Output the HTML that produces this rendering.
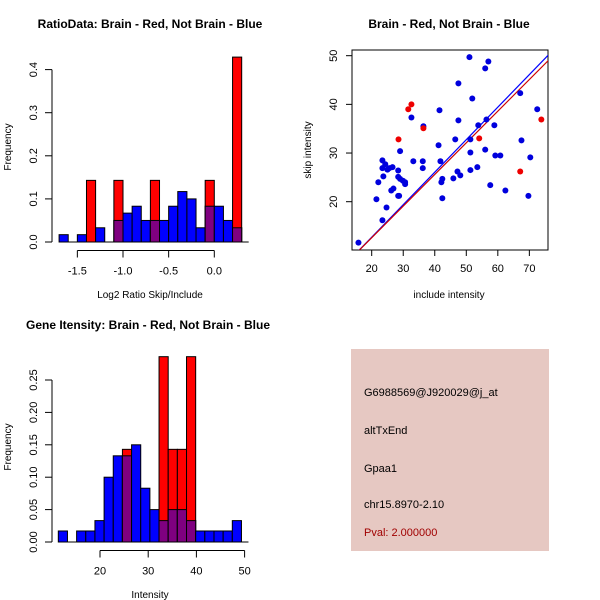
<!DOCTYPE html>
<html><head><meta charset="utf-8"><style>
body{margin:0;background:#fff}
svg{display:block;font-family:"Liberation Sans",sans-serif}
</style></head><body>
<svg id="s" width="600" height="600" xmlns="http://www.w3.org/2000/svg">
<rect x="0" y="0" width="600" height="600" fill="#fff"/>
<g id="p1"></g>
<g id="p2"></g>
<g id="p3"></g>
<g font-size="11">
<rect x="351" y="349" width="198" height="202" fill="#e6c8c2"/>
<text x="364" y="396" fill="#000">G6988569@J920029@j_at</text>
<text x="364" y="434" fill="#000">altTxEnd</text>
<text x="364" y="472" fill="#000">Gpaa1</text>
<text x="364" y="508" fill="#000">chr15.8970-2.10</text>
<text x="364" y="536" fill="#a00000">Pval: 2.000000</text>
</g>
</svg>
<script>
// ---- data ----
const ratioBinStart = -1.7, ratioBinWidth = 0.1;
const ratioBlue = [0.017,0,0.017,0,0.033,0,0.05,0.067,0.083,0.05,0.05,0.05,0.083,0.117,0.1,0.033,0.083,0.083,0.05,0.033];
const ratioRed  = [0,0,0,0.143,0,0,0.143,0,0,0,0.143,0,0,0,0,0,0.143,0,0,0.429];
const ratioXTicks = [-1.5,-1.0,-0.5,0.0];
const ratioXLabels = ["-1.5","-1.0","-0.5","0.0"];
const ratioYTicks = [0,0.1,0.2,0.3,0.4];
const ratioYLabels = ["0.0","0.1","0.2","0.3","0.4"];

const geneBinStart = 11.35, geneBinWidth = 1.9;
const geneBlue = [0.017,0,0.017,0.017,0.033,0.1,0.133,0.133,0.15,0.083,0.05,0.033,0.05,0.05,0.033,0.017,0.017,0.017,0.017,0.033];
const geneRed  = [0,0,0,0,0,0,0,0.143,0,0,0,0.286,0.143,0.143,0.286,0,0,0,0,0];
const geneXTicks = [20,30,40,50];
const geneXLabels = ["20","30","40","50"];
const geneYTicks = [0,0.05,0.10,0.15,0.20,0.25];
const geneYLabels = ["0.00","0.05","0.10","0.15","0.20","0.25"];

const blueInclude = [15.8,21.5,22.1,23.4,23.4,23.7,23.4,24.3,24.7,25.0,25.6,26.2,26.6,26.9,28.4,28.4,28.7,28.4,29.0,29.0,29.9,30.6,30.6,32.6,33.2,36.2,36.2,36.4,41.5,41.2,41.8,42.1,42.4,42.4,45.9,46.5,47.2,47.5,47.5,48.1,51.0,51.3,51.3,51.3,51.9,53.5,53.8,56.0,57.0,56.0,56.4,57.6,58.9,59.2,60.8,62.4,67.1,67.5,69.7,70.3,72.5];
const blueSkip    = [11.6,20.5,24.0,28.5,26.9,25.2,16.2,27.7,18.8,26.6,26.9,22.3,27.1,22.7,26.4,25.1,21.2,21.2,30.4,24.7,24.3,23.6,24.0,37.3,28.3,28.3,26.9,35.5,38.8,31.6,28.3,24.0,24.7,20.7,24.8,32.8,26.2,44.3,36.7,25.4,49.7,32.8,30.1,26.5,41.2,27.1,35.7,47.4,48.8,30.7,36.9,23.4,35.7,29.5,29.5,22.3,42.3,32.6,21.2,29.1,39.0];
const redInclude = [28.5,31.6,32.6,36.4,54.1,67.1,73.8];
const redSkip    = [32.8,39.0,40.0,35.1,33.0,26.2,36.9];
const lineIntercepts = [-0.65,-0.4];
const lineSlopes = [0.668,0.65];
const scatXTicks = [20,30,40,50,60,70];
const scatXLabels = ["20","30","40","50","60","70"];
const scatYTicks = [20,30,40,50];
const scatYLabels = ["20","30","40","50"];

const NS = "http://www.w3.org/2000/svg";
function mk(parent, tag, attrs){const e=document.createElementNS(NS,tag);for(const k in attrs)e.setAttribute(k,attrs[k]);parent.appendChild(e);return e;}
function txt(parent,x,y,s,o){const e=mk(parent,'text',Object.assign({x:x,y:y,'font-size':11,fill:'#000','text-anchor':'middle'},o||{}));e.textContent=s;return e;}

function hist(g, cfg){
  const sx=v=>cfg.x0px+(v-cfg.x0)*cfg.xs, sy=v=>cfg.y0px-v*cfg.ys;
  for(let i=0;i<cfg.blue.length;i++){
    const a=cfg.bs+i*cfg.bw, b=a+cfg.bw;
    const bl=cfg.blue[i], rd=cfg.red[i];
    const x=sx(a), w=sx(b)-sx(a);
    if(bl>0){const r=mk(g,'rect',{x:x,y:sy(bl),width:w,height:sy(0)-sy(bl),fill:'#0000ff',stroke:'#000','stroke-width':1});
      
      }
    if(rd>0){const r=mk(g,'rect',{x:x,y:sy(rd),width:w,height:sy(0)-sy(rd),fill:'#ff0000',stroke:'#000','stroke-width':1});
      
      
      const o=Math.min(bl,rd);
      if(o>0){const p=mk(g,'rect',{x:x,y:sy(o),width:w,height:sy(0)-sy(o),fill:'#7f0080',stroke:'#000','stroke-width':1});
        
        }}
  }
  mk(g,'line',{x1:sx(cfg.bs),x2:sx(cfg.bs+cfg.blue.length*cfg.bw)+7,y1:sy(0),y2:sy(0),stroke:'#000'});
  const ya=mk(g,'g',{});
  
  
  mk(ya,'line',{x1:52,x2:52,y1:sy(cfg.yt[0]),y2:sy(cfg.yt[cfg.yt.length-1]),stroke:'#000'});
  cfg.yt.forEach((v,i)=>{mk(ya,'line',{x1:45,x2:52,y1:sy(v),y2:sy(v),stroke:'#000'});
    txt(ya,0,0,cfg.yl[i],{transform:`translate(37,${sy(v)}) rotate(-90)`});});
  const xa=mk(g,'g',{});
  
  
  const ay=cfg.y0px+8.5;
  mk(xa,'line',{x1:sx(cfg.xt[0]),x2:sx(cfg.xt[cfg.xt.length-1]),y1:ay,y2:ay,stroke:'#000'});
  cfg.xt.forEach((v,i)=>{mk(xa,'line',{x1:sx(v),x2:sx(v),y1:ay,y2:ay+7,stroke:'#000'});txt(xa,sx(v),ay+24,cfg.xl[i]);});
}

hist(document.getElementById('p1'),{x0:0,x0px:214.3,xs:91.3,y0px:242,ys:431,bs:ratioBinStart,bw:ratioBinWidth,blue:ratioBlue,red:ratioRed,xt:ratioXTicks,xl:ratioXLabels,yt:ratioYTicks,yl:ratioYLabels});
hist(document.getElementById('p3'),{x0:20,x0px:100,xs:4.82,y0px:542,ys:648,bs:geneBinStart,bw:geneBinWidth,blue:geneBlue,red:geneRed,xt:geneXTicks,xl:geneXLabels,yt:geneYTicks,yl:geneYLabels});

const p1=document.getElementById('p1'), p3=document.getElementById('p3');
let t=txt(p1,150,28,"RatioData: Brain - Red, Not Brain - Blue",{'font-weight':'bold','font-size':12});


t=txt(p1,150,298,"Log2 Ratio Skip/Include",{'font-size':10});


t=txt(p1,0,0,"Frequency",{'font-size':10,transform:'translate(11,147) rotate(-90)'});


t=txt(p3,148,329,"Gene Itensity: Brain - Red, Not Brain - Blue",{'font-weight':'bold','font-size':12});


t=txt(p3,150,598,"Intensity",{'font-size':10});


t=txt(p3,0,0,"Frequency",{'font-size':10,transform:'translate(11,447) rotate(-90)'});



(function(){
  const g=document.getElementById('p2');
  const sx=v=>371.7+(v-20)*3.153, sy=v=>201.7-(v-20)*4.867;
  const L=352,R=548,T=50,B=250;
  mk(g,'rect',{x:L,y:T,width:R-L,height:B-T,fill:'none',stroke:'#000'});
  const cp=mk(g,'clipPath',{id:'cp'});mk(cp,'rect',{x:L,y:T,width:R-L,height:B-T});
  const lg=mk(g,'g',{'clip-path':'url(#cp)'});
  const cols=['#0000ff','#cc0000'];
  lineIntercepts.forEach((a,i)=>{const l=mk(lg,'line',{x1:sx(10),y1:sy(a+lineSlopes[i]*10),x2:sx(80),y2:sy(a+lineSlopes[i]*80),stroke:cols[i],'stroke-width':1.2});
    
    });
  blueInclude.forEach((v,i)=>{const c=mk(g,'circle',{cx:sx(v),cy:sy(blueSkip[i]),r:3,fill:'#0000dd'});
    
    });
  redInclude.forEach((v,i)=>{const c=mk(g,'circle',{cx:sx(v),cy:sy(redSkip[i]),r:3,fill:'#ee0000'});
    
    });
  scatXTicks.forEach((v,i)=>{mk(g,'line',{x1:sx(v),x2:sx(v),y1:B,y2:B+6,stroke:'#000'});txt(g,sx(v),B+22,scatXLabels[i]);});
  scatYTicks.forEach((v,i)=>{mk(g,'line',{x1:L-6,x2:L,y1:sy(v),y2:sy(v),stroke:'#000'});txt(g,0,0,scatYLabels[i],{transform:`translate(337,${sy(v)}) rotate(-90)`});});
  let t=txt(g,449,28,"Brain - Red, Not Brain - Blue",{'font-weight':'bold','font-size':12});
  
  
  t=txt(g,449,298,"include intensity",{'font-size':10});
  
  
  t=txt(g,0,0,"skip intensity",{'font-size':10,transform:'translate(311,150) rotate(-90)'});
  
  
})();
</script>
</body></html>
